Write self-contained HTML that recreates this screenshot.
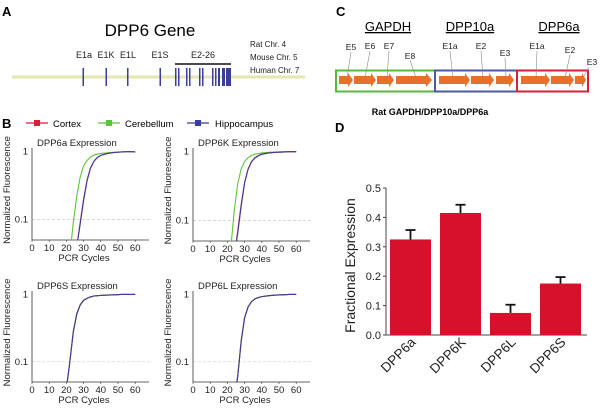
<!DOCTYPE html>
<html style="overflow:hidden"><head><meta charset="utf-8"><style>
html,body{margin:0;padding:0;width:603px;height:410px;background:#fff;overflow:hidden;font-family:"Liberation Sans",sans-serif}
svg{display:block;position:absolute;left:0;top:0}
</style></head><body>
<svg width="603" height="410" viewBox="0 0 603 410" font-family="Liberation Sans, sans-serif">
<!-- Panel A -->
<g>
<text x="2" y="16" font-size="13" font-weight="bold">A</text>
<text x="150" y="36" font-size="17" text-anchor="middle">DPP6 Gene</text>
<g font-size="9" text-anchor="middle" fill="#222">
<text x="84" y="58">E1a</text>
<text x="106" y="58">E1K</text>
<text x="128" y="58">E1L</text>
<text x="160" y="58">E1S</text>
<text x="203" y="58">E2-26</text>
</g>
<line x1="175" y1="64" x2="231" y2="64" stroke="#111" stroke-width="1.5"/>
<line x1="12" y1="77" x2="305" y2="77" stroke="#e6e6b0" stroke-width="3"/>
<g fill="#3a3f9a">
<rect x="82.5" y="68" width="1.5" height="18"/><rect x="105.5" y="68" width="1.5" height="18"/><rect x="127" y="68" width="1.5" height="18"/><rect x="159.5" y="68" width="1.5" height="18"/>
<rect x="175" y="68" width="1.5" height="18"/><rect x="178" y="68" width="1.5" height="18"/><rect x="186" y="68" width="1.5" height="18"/><rect x="189" y="68" width="1.5" height="18"/>
<rect x="199" y="68" width="1.5" height="18"/><rect x="202" y="68" width="1.5" height="18"/><rect x="212" y="68" width="1.5" height="18"/><rect x="215" y="68" width="1.5" height="18"/>
<rect x="218" y="68" width="2" height="18"/><rect x="222" y="68" width="3" height="18"/><rect x="226" y="68" width="5" height="18"/>
</g>
<g font-size="8" fill="#222">
<text x="250" y="47">Rat Chr. 4</text>
<text x="250" y="60">Mouse Chr. 5</text>
<text x="250" y="73">Human Chr. 7</text>
</g>
</g>
<!-- Panel C -->
<g>
<text x="336" y="16" font-size="13" font-weight="bold">C</text>
<g font-size="13" text-anchor="middle" text-decoration="underline">
<text x="388" y="31">GAPDH</text>
<text x="470" y="31">DPP10a</text>
<text x="559" y="31">DPP6a</text>
</g>
<g fill="#e8702a">
<path d="M339,76h9v-3l5,7l-5,7v-3h-9z"/><path d="M354,76h17v-3l5,7l-5,7v-3h-17z"/><path d="M377,76h12v-3l5,7l-5,7v-3h-12z"/><path d="M396,76h30v-3l6,7l-6,7v-3h-30z"/>
<path d="M439,76h26v-3l5,7l-5,7v-3h-26z"/><path d="M471,76h18v-3l5,7l-5,7v-3h-18z"/><path d="M496,76h13v-3l5,7l-5,7v-3h-13z"/>
<path d="M521,76h24v-3l5,7l-5,7v-3h-24z"/><path d="M551,76h18v-3l5,7l-5,7v-3h-18z"/><path d="M575,76h7v-3l4,7l-4,7v-3h-7z"/>
</g>
<rect x="336" y="70.5" width="99" height="21" fill="none" stroke="#5ab83a" stroke-width="2"/>
<rect x="435" y="70.5" width="82" height="21" fill="none" stroke="#4a5aa8" stroke-width="2"/>
<rect x="517" y="70.5" width="71" height="21" fill="none" stroke="#d81f3a" stroke-width="2"/>
<g stroke="#888" stroke-width="0.6">
<line x1="351" y1="52" x2="347" y2="78"/><line x1="370" y1="51" x2="365" y2="78"/><line x1="389" y1="51" x2="387" y2="78"/><line x1="410" y1="60" x2="416" y2="78"/>
<line x1="450" y1="51" x2="453" y2="78"/><line x1="481" y1="51" x2="483" y2="78"/><line x1="505" y1="58" x2="506" y2="78"/>
<line x1="537" y1="51" x2="536" y2="78"/><line x1="570" y1="55" x2="565" y2="78"/><line x1="589" y1="67" x2="583" y2="78"/>
</g>
<g font-size="8.5" text-anchor="middle" fill="#222">
<text x="351" y="50">E5</text><text x="370" y="49">E6</text><text x="389" y="49">E7</text><text x="410" y="59">E8</text>
<text x="450" y="49">E1a</text><text x="481" y="49">E2</text><text x="505" y="56">E3</text>
<text x="537" y="49">E1a</text><text x="570" y="53">E2</text><text x="592" y="65">E3</text>
</g>
<text x="430" y="115" font-size="9" font-weight="bold" text-anchor="middle">Rat GAPDH/DPP10a/DPP6a</text>
</g>
<!-- Panel B legend -->
<g>
<text x="2" y="128" font-size="13" font-weight="bold">B</text>
<line x1="26" y1="123" x2="48" y2="123" stroke="#d81f3a" stroke-width="1.2"/><rect x="34" y="120" width="6" height="6" fill="#d81f3a"/>
<text x="53" y="127" font-size="9.5">Cortex</text>
<line x1="98" y1="123" x2="120" y2="123" stroke="#5cc43c" stroke-width="1.2"/><rect x="106" y="120" width="6" height="6" fill="#5cc43c"/>
<text x="125" y="127" font-size="9.5">Cerebellum</text>
<line x1="187" y1="123" x2="209" y2="123" stroke="#3a3f9a" stroke-width="1.2"/><rect x="195" y="120" width="6" height="6" fill="#3a3f9a"/>
<text x="215" y="127" font-size="9.5">Hippocampus</text>
</g>
<g id="qpcr"></g>
<g id="bars">
<text x="335" y="132" font-size="13" font-weight="bold">D</text>
</g>
</svg>
<script>
const NS='http://www.w3.org/2000/svg';
const cycles=[20,22,24,26,28,30,32,34,36,38,40,44,48,52,56,60];
const panelTitles=['DPP6a Expression','DPP6K Expression','DPP6S Expression','DPP6L Expression'];
const aCortex=[0.008,0.015,0.025,0.04,0.09,0.2,0.38,0.58,0.72,0.82,0.88,0.94,0.97,0.99,1,0.99];
const aCerebellum=[0.01,0.03,0.09,0.22,0.42,0.62,0.74,0.83,0.89,0.92,0.94,0.96,0.98,0.99,1,0.99];
const aHippocampus=[0.008,0.015,0.025,0.04,0.085,0.19,0.37,0.57,0.72,0.82,0.88,0.94,0.97,0.99,1,0.99];
const kCortex=[0.008,0.015,0.03,0.07,0.17,0.36,0.56,0.72,0.82,0.88,0.92,0.96,0.98,0.99,1,1];
const kCerebellum=[0.015,0.04,0.14,0.34,0.56,0.72,0.82,0.88,0.92,0.94,0.96,0.98,0.99,1,1,1];
const kHippocampus=[0.008,0.015,0.03,0.065,0.16,0.35,0.55,0.71,0.81,0.87,0.92,0.96,0.98,0.99,1,1];
const sCortex=[0.04,0.1,0.28,0.52,0.7,0.82,0.88,0.92,0.95,0.96,0.97,0.98,0.99,1,1,1];
const sCerebellum=[0.04,0.1,0.27,0.5,0.69,0.81,0.88,0.92,0.95,0.96,0.97,0.98,0.99,1,1,1];
const sHippocampus=[0.04,0.1,0.28,0.51,0.7,0.82,0.88,0.92,0.95,0.96,0.97,0.98,0.99,1,1,1];
const lCortex=[0.008,0.015,0.03,0.06,0.2,0.45,0.65,0.78,0.86,0.9,0.93,0.96,0.98,0.99,1,1];
const lCerebellum=[0.008,0.015,0.03,0.062,0.21,0.46,0.66,0.78,0.86,0.9,0.93,0.96,0.98,0.99,1,1];
const lHippocampus=[0.008,0.015,0.03,0.06,0.2,0.45,0.65,0.78,0.86,0.9,0.93,0.96,0.98,0.99,1,1];
const panelSeries=[[aCortex,aCerebellum,aHippocampus],[kCortex,kCerebellum,kHippocampus],[sCortex,sCerebellum,sHippocampus],[lCortex,lCerebellum,lHippocampus]];
const seriesNames=['cortex','cerebellum','hippocampus'];
const seriesColors=['#d81f3a','#5cc43c','#3a3f9a'];
const xTicks=[0,10,20,30,40,50,60];
const yTicks=[1,0.1];
const layouts=[{x0:32,y0:240,top:140,id:'a'},{x0:193,y0:241,top:140,id:'k'},{x0:32,y0:382,top:283,id:'s'},{x0:193,y0:382,top:283,id:'l'}];
const q=document.getElementById('qpcr');
function mk(tag,attrs,parent){const e=document.createElementNS(NS,tag);for(const k in attrs)e.setAttribute(k,attrs[k]);parent.appendChild(e);return e;}
layouts.forEach((L,pi)=>{
  const decade=(L.y0-L.top)*0.68;
  const xs=c=>L.x0+c*1.72;
  const ys=v=>L.y0-(Math.log10(v)+1.3)*decade;
  const g=mk('g',{},q);
  
  
  const cp=mk('clipPath',{id:'cp'+pi},g);
  mk('rect',{x:L.x0,y:L.top,width:118,height:L.y0-L.top},cp);
  mk('line',{x1:L.x0,y1:ys(0.1),x2:L.x0+118,y2:ys(0.1),stroke:'#ccc','stroke-dasharray':'3,2','stroke-width':0.7},g);
  mk('line',{x1:L.x0,y1:L.top+8,x2:L.x0,y2:L.y0,stroke:'#333','stroke-width':0.8},g);
  mk('line',{x1:L.x0,y1:L.y0,x2:L.x0+117,y2:L.y0,stroke:'#333','stroke-width':0.8},g);
  xTicks.forEach(t=>{mk('line',{x1:xs(t),y1:L.y0,x2:xs(t),y2:L.y0+2,stroke:'#333','stroke-width':0.6},g);
    const tx=mk('text',{x:xs(t),y:L.y0+11,'font-size':9.5,'text-anchor':'middle',fill:'#222'},g);tx.textContent=t;
    
    });
  yTicks.forEach(t=>{const tx=mk('text',{x:L.x0-4,y:ys(t)+3,'font-size':9.5,'text-anchor':'end',fill:'#222'},g);tx.textContent=t;
    
    });
  const xt=mk('text',{x:L.x0+52,y:L.y0+21,'font-size':9.5,'text-anchor':'middle',fill:'#222'},g);xt.textContent='PCR Cycles';
  
  
  const yt=mk('text',{x:0,y:0,'font-size':9.5,'text-anchor':'middle',fill:'#222',transform:`translate(${L.x0-22},${(L.top+L.y0)/2}) rotate(-90)`},g);yt.textContent='Normalized Fluorescence';
  
  
  const tt=mk('text',{x:L.x0+5,y:L.top+6,'font-size':9.5,fill:'#222'},g);tt.textContent=panelTitles[pi];
  
  
  const order=[1,0,2];
  order.forEach(si=>{const vals=panelSeries[pi][si];
    const p=mk('polyline',{points:cycles.map((c,i)=>xs(c)+','+ys(vals[i])).join(' '),fill:'none',stroke:seriesColors[si],'stroke-width':1.1,'clip-path':`url(#cp${pi})`},g);
    
    });
});
const barCats=['DPP6a','DPP6K','DPP6L','DPP6S'];
const barValues=[0.325,0.415,0.075,0.175];
const barErrors=[0.032,0.028,0.028,0.022];
const barTicks=[0.0,0.1,0.2,0.3,0.4,0.5];
const b=document.getElementById('bars');
const bx0=386,by0=335,bScale=294;
const yb=v=>by0-v*bScale;
mk('line',{x1:bx0,y1:yb(0.5),x2:bx0,y2:by0,stroke:'#444','stroke-width':1},b);
mk('line',{x1:bx0,y1:by0,x2:587,y2:by0,stroke:'#444','stroke-width':1},b);
barTicks.forEach(t=>{mk('line',{x1:bx0-3,y1:yb(t),x2:bx0,y2:yb(t),stroke:'#444'},b);
  const tx=mk('text',{x:bx0-5,y:yb(t)+4,'font-size':11,'text-anchor':'end',fill:'#222'},b);tx.textContent=t.toFixed(1);
  
  });
const byt=mk('text',{x:0,y:0,'font-size':14,'text-anchor':'middle',fill:'#222',transform:`translate(${bx0-31},${yb(0.25)+4}) rotate(-90)`},b);byt.textContent='Fractional Expression';


barCats.forEach((c,i)=>{const x=390+i*50,w=41;
  const r=mk('rect',{x:x,y:yb(barValues[i]),width:w,height:barValues[i]*bScale,fill:'#d7112b'},b);
  
  
  const cx=x+w/2,ey=yb(barValues[i]+barErrors[i]);
  mk('line',{x1:cx,y1:yb(barValues[i]),x2:cx,y2:ey,stroke:'#111','stroke-width':1.8},b);
  mk('line',{x1:cx-5,y1:ey,x2:cx+5,y2:ey,stroke:'#111','stroke-width':1.8},b);
  const tx=mk('text',{x:0,y:0,'font-size':13.5,'text-anchor':'end',fill:'#222',transform:`translate(${cx+6},${by0+8}) rotate(-45)`},b);tx.textContent=c;
  
  });
</script>
</body></html>
